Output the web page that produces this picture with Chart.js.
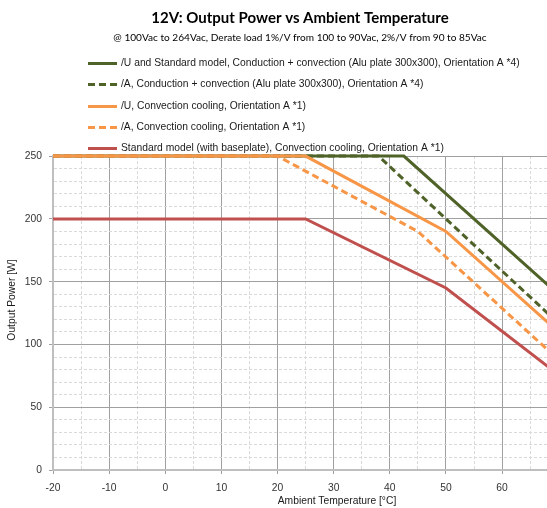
<!DOCTYPE html>
<html>
<head>
<meta charset="utf-8">
<script src="https://cdn.jsdelivr.net/npm/chart.js@4/dist/chart.umd.min.js"></script>
<style>
  html, body { margin: 0; padding: 0; background: #fff; }
  #wrap { width: 547px; height: 508px; }
</style>
</head>
<body>
<div id="wrap"><canvas id="chart"></canvas></div>
<script>
// ---- data (temperature in °C, power in W) ----
var seriesLabels = [
  '/U and Standard model, Conduction + convection (Alu plate 300x300), Orientation A *4)',
  '/A, Conduction + convection (Alu plate 300x300), Orientation A *4)',
  '/U, Convection cooling, Orientation A *1)',
  '/A, Convection cooling, Orientation A *1)',
  'Standard model (with baseplate), Convection cooling, Orientation A *1)'
];
var uStdCondTemp = [-20, 42.5, 70];
var uStdCondPower = [250, 250, 140];
var aCondTemp = [-20, 38, 50, 70];
var aCondPower = [250, 250, 200, 117];
var uConvTemp = [-20, 25, 50, 70];
var uConvPower = [250, 250, 190, 110];
var aConvTemp = [-20, 20, 45, 70];
var aConvPower = [250, 250, 190, 88];
var stdBaseTemp = [-20, 25, 50, 70];
var stdBasePower = [200, 200, 145, 76];

var titleText = '12V: Output Power vs Ambient Temperature';
var subtitleText = '@ 100Vac to 264Vac, Derate load 1%/V from 100 to 90Vac, 2%/V from 90 to 85Vac';
var xTitle = 'Ambient Temperature [°C]';
var yTitle = 'Output Power [W]';

var GREEN = '#4f6228', ORANGE = '#f79646', RED = '#c0504d';
var FONT = '"Liberation Sans", Arial, sans-serif';

function pts(xs, ys) { return xs.map(function(x, i) { return { x: x, y: ys[i] }; }); }
function line(label, xs, ys, color, dash, order) {
  return { label: label, data: pts(xs, ys), borderColor: color, backgroundColor: color,
    borderWidth: 3, borderDash: dash, pointRadius: 0, fill: false, tension: 0, order: order, clip: false };
}

// legend is stacked and left-aligned in the block above the plot, and the axis
// titles sit off-centre (the source plot was cropped) -> both drawn by hand
var stackLegend = {
  id: 'stackLegend',
  afterDraw: function(chart) {
    var ctx = chart.ctx;
    ctx.save();
    ctx.font = '10.3px ' + FONT;
    ctx.textBaseline = 'middle';
    ctx.textAlign = 'left';
    chart.data.datasets.forEach(function(ds, i) {
      var y = Math.round(63 + i * 21.25) + 0.5;
      ctx.strokeStyle = ds.borderColor;
      ctx.lineWidth = 3;
      ctx.setLineDash(ds.borderDash || []);
      ctx.beginPath(); ctx.moveTo(88, y); ctx.lineTo(117, y); ctx.stroke();
      ctx.setLineDash([]);
      ctx.fillStyle = '#1a1a1a';
      ctx.fillText(ds.label, 121, y);
    });
    ctx.textAlign = 'center';
    ctx.fillText(xTitle, 337, 501);
    ctx.translate(12, 300);
    ctx.rotate(-Math.PI / 2);
    ctx.fillText(yTitle, 0, 0);
    ctx.restore();
  }
};

var isMajorX = function(c) { return c.tick && c.tick.value % 10 === 0; };
var isMajorY = function(c) { return c.tick && c.tick.value % 50 === 0; };

new Chart(document.getElementById('chart'), {
  type: 'line',
  data: { datasets: [
    line(seriesLabels[0], uStdCondTemp, uStdCondPower, GREEN, [], 2),
    line(seriesLabels[1], aCondTemp, aCondPower, GREEN, [7, 4], 3),
    line(seriesLabels[2], uConvTemp, uConvPower, ORANGE, [], 0),
    line(seriesLabels[3], aConvTemp, aConvPower, ORANGE, [7, 4], 1),
    line(seriesLabels[4], stdBaseTemp, stdBasePower, RED, [], 4)
  ] },
  plugins: [stackLegend],
  options: {
    responsive: true, maintainAspectRatio: false, animation: false,
    layout: { padding: 0 },
    plugins: {
      legend: { display: false },
      tooltip: { enabled: false },
      title: { display: true, fullSize: false, text: titleText, color: '#000',
        font: { family: 'Lato, ' + FONT, size: 15, weight: 'bold' }, padding: { top: 9, bottom: 2 } },
      subtitle: { display: true, fullSize: false, text: subtitleText, color: '#000',
        font: { family: 'Lato, ' + FONT, size: 10.1 }, padding: { top: 3, bottom: 112 } }
    },
    scales: {
      x: {
        type: 'linear', min: -20, max: 68,
        afterFit: function(s) { s.height = 38; },
        ticks: { stepSize: 5, includeBounds: false, autoSkip: false, maxRotation: 0, padding: 8,
          color: '#333', font: { family: FONT, size: 10.3 },
          callback: function(v) { return v % 10 === 0 ? v : ''; } },
        grid: { color: function(c) { return isMajorX(c) ? '#a0a0a0' : '#d9d9d9'; },
          tickColor: function(c) { return isMajorX(c) ? '#a0a0a0' : 'rgba(0,0,0,0)'; }, tickLength: 4 },
        border: { color: '#bfbfbf', width: 2,
          dash: function(c) { return c.tick && !isMajorX(c) ? [3, 2] : []; } }
      },
      y: {
        min: 0, max: 250,
        afterFit: function(s) { s.width = 53; },
        ticks: { stepSize: 10, autoSkip: false, padding: 7, color: '#333', font: { family: FONT, size: 10.3 },
          callback: function(v) { return v % 50 === 0 ? v : ''; } },
        grid: { color: function(c) { return isMajorY(c) ? '#a0a0a0' : '#d9d9d9'; },
          tickColor: function(c) { return isMajorY(c) ? '#a0a0a0' : 'rgba(0,0,0,0)'; }, tickLength: 4 },
        border: { color: '#bfbfbf', width: 2,
          dash: function(c) { return c.tick && !isMajorY(c) ? [3, 2] : []; } }
      }
    }
  }
});
</script>
</body>
</html>
